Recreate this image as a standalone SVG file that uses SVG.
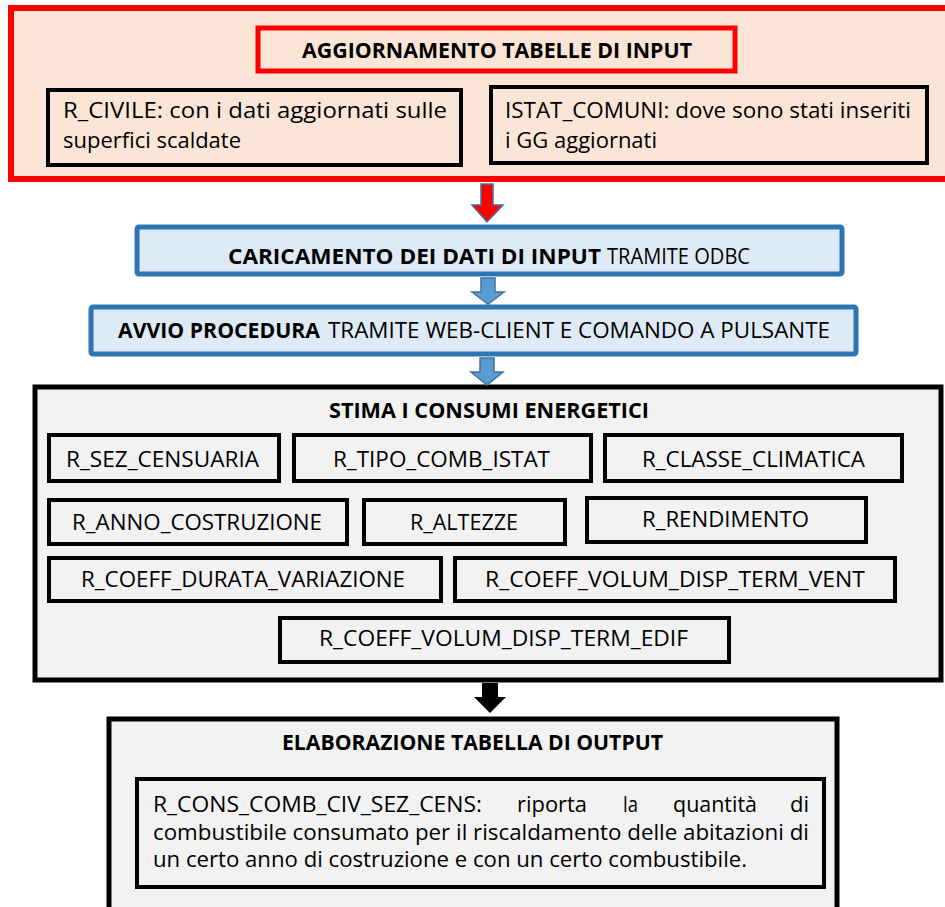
<svg xmlns="http://www.w3.org/2000/svg" width="945" height="907" viewBox="0 0 945 907">
<style>
text{font-family:"Open Sans","Noto Sans","Liberation Sans",sans-serif;font-size:21px;fill:#000}
.b{font-weight:bold}
.peach{fill:#FBE5D6}
.redbox{fill:#FBE5D6;stroke:#FF0000;stroke-width:6}
.redtitle{fill:#FBE5D6;stroke:#FF0000;stroke-width:5}
.pbox{fill:#FBE5D6;stroke:#000;stroke-width:4}
.blue{fill:#DEEBF7;stroke:#2E75B6;stroke-width:5}
.grey{fill:#F2F2F2;stroke:#000;stroke-width:5}
.gbox{fill:#F2F2F2;stroke:#000;stroke-width:4}
.ab{fill:#5B9BD5;stroke:#41719C;stroke-width:1.5}
.ar{fill:#FF0000;stroke:#41719C;stroke-width:1.5}
.ak{fill:#000}
</style>
<g id="aggiornamento">
<rect class="redbox" x="11" y="8" width="950" height="171"/>
<rect class="redtitle" x="258" y="28" width="477" height="43"/>
<text class="b" x="302" y="58" textLength="390" lengthAdjust="spacingAndGlyphs">AGGIORNAMENTO TABELLE DI INPUT</text>
</g>
<g id="r_civile">
<rect class="pbox" x="48" y="90" width="413" height="75"/>
<text x="63" y="118" textLength="384" lengthAdjust="spacingAndGlyphs">R_CIVILE: con i dati aggiornati sulle</text>
<text x="63" y="148" textLength="178" lengthAdjust="spacingAndGlyphs">superfici scaldate</text>
</g>
<g id="istat_comuni">
<rect class="pbox" x="491" y="87" width="436" height="76"/>
<text x="505" y="118" textLength="406" lengthAdjust="spacingAndGlyphs">ISTAT_COMUNI: dove sono stati inseriti</text>
<text x="505" y="148" textLength="152" lengthAdjust="spacingAndGlyphs">i GG aggiornati</text>
</g>
<g id="caricamento">
<rect class="blue" x="137" y="227" width="705" height="47" rx="2"/>
<text class="b" x="228" y="264" textLength="373" lengthAdjust="spacingAndGlyphs">CARICAMENTO DEI DATI DI INPUT</text>
<text x="607" y="264" textLength="143" lengthAdjust="spacingAndGlyphs">TRAMITE ODBC</text>
</g>
<g id="avvio">
<rect class="blue" x="91" y="307" width="765" height="47" rx="2"/>
<text class="b" x="118" y="338" textLength="202" lengthAdjust="spacingAndGlyphs">AVVIO PROCEDURA</text>
<text x="328" y="338" textLength="502" lengthAdjust="spacingAndGlyphs">TRAMITE WEB-CLIENT E COMANDO A PULSANTE</text>
</g>
<g id="stima">
<rect class="grey" x="35" y="387" width="906" height="293"/>
<text class="b" x="329" y="418" textLength="320" lengthAdjust="spacingAndGlyphs">STIMA I CONSUMI ENERGETICI</text>
</g>
<g id="r_sez_censuaria">
<rect class="gbox" x="49" y="435" width="230" height="46"/>
<text x="66" y="467" textLength="193" lengthAdjust="spacingAndGlyphs">R_SEZ_CENSUARIA</text>
</g>
<g id="r_tipo_comb_istat">
<rect class="gbox" x="294" y="435" width="297" height="46"/>
<text x="333" y="467" textLength="217" lengthAdjust="spacingAndGlyphs">R_TIPO_COMB_ISTAT</text>
</g>
<g id="r_classe_climatica">
<rect class="gbox" x="605" y="435" width="297" height="46"/>
<text x="642" y="467" textLength="223" lengthAdjust="spacingAndGlyphs">R_CLASSE_CLIMATICA</text>
</g>
<g id="r_anno_costruzione">
<rect class="gbox" x="49" y="500" width="298" height="44"/>
<text x="72" y="530" textLength="250" lengthAdjust="spacingAndGlyphs">R_ANNO_COSTRUZIONE</text>
</g>
<g id="r_altezze">
<rect class="gbox" x="364" y="500" width="201" height="44"/>
<text x="410" y="530" textLength="108" lengthAdjust="spacingAndGlyphs">R_ALTEZZE</text>
</g>
<g id="r_rendimento">
<rect class="gbox" x="587" y="498" width="279" height="44"/>
<text x="642" y="527" textLength="167" lengthAdjust="spacingAndGlyphs">R_RENDIMENTO</text>
</g>
<g id="r_coeff_durata_variazione">
<rect class="gbox" x="49" y="558" width="392" height="43"/>
<text x="81" y="587" textLength="324" lengthAdjust="spacingAndGlyphs">R_COEFF_DURATA_VARIAZIONE</text>
</g>
<g id="r_coeff_volum_disp_term_vent">
<rect class="gbox" x="455" y="558" width="440" height="43"/>
<text x="485" y="587" textLength="380" lengthAdjust="spacingAndGlyphs">R_COEFF_VOLUM_DISP_TERM_VENT</text>
</g>
<g id="r_coeff_volum_disp_term_edif">
<rect class="gbox" x="280" y="618" width="449" height="44"/>
<text x="319" y="646" textLength="369" lengthAdjust="spacingAndGlyphs">R_COEFF_VOLUM_DISP_TERM_EDIF</text>
</g>
<g id="elaborazione">
<rect class="grey" x="109" y="719" width="728" height="200"/>
<text class="b" x="282" y="750" textLength="381" lengthAdjust="spacingAndGlyphs">ELABORAZIONE TABELLA DI OUTPUT</text>
</g>
<g id="r_cons_comb_civ_sez_cens">
<rect class="gbox" x="137" y="779" width="687" height="108"/>
<text x="153" y="812" textLength="329" lengthAdjust="spacingAndGlyphs">R_CONS_COMB_CIV_SEZ_CENS:</text>
<text x="517" y="812" textLength="70" lengthAdjust="spacingAndGlyphs">riporta</text>
<text x="623" y="812" textLength="15" lengthAdjust="spacingAndGlyphs">la</text>
<text x="673" y="812" textLength="84" lengthAdjust="spacingAndGlyphs">quantità</text>
<text x="790" y="812" textLength="19" lengthAdjust="spacingAndGlyphs">di</text>
<text x="153" y="840" textLength="656" lengthAdjust="spacingAndGlyphs">combustibile consumato per il riscaldamento delle abitazioni di</text>
<text x="153" y="867" textLength="594" lengthAdjust="spacingAndGlyphs">un certo anno di costruzione e con un certo combustibile.</text>
</g>
<g id="connectors">
<polygon class="ar" points="481,184 493,184 493,205 503,205 487,222 472,205 481,205"/>
<polygon class="ab" points="481,278 495,278 495,292 504,292 488,304 472,292 481,292"/>
<polygon class="ab" points="480,358 494,358 494,372 503,372 487,385 471,372 480,372"/>
<polygon class="ak" points="482,683 498,683 498,697 506,697 490,713 474,697 482,697"/>
</g>
</svg>
